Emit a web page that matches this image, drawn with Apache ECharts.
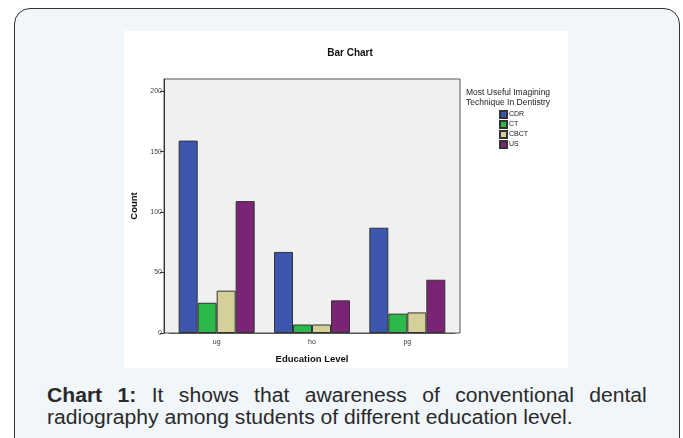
<!DOCTYPE html>
<html>
<head>
<meta charset="utf-8">
<script src="https://cdn.jsdelivr.net/npm/echarts@6/dist/echarts.min.js"></script>
<style>
  body { margin: 0; width: 683px; height: 438px; background: #fff; overflow: hidden; font-family: "Liberation Sans", Arial, sans-serif; }
  .frame { position: absolute; left: 14px; top: 8px; width: 664px; height: 460px; border: 1.5px solid #333; border-radius: 16px; background: #f1f6fa; }
  #chart { position: absolute; left: 124px; top: 31px; width: 444px; height: 337px; background: #fff; }
  .caption { position: absolute; left: 47px; top: 384px; width: 568px; font-size: 20px; line-height: 22px; color: #2a2a2a;
             text-align: justify; text-align-last: left; transform: scaleX(1.056); transform-origin: left top; }
</style>
</head>
<body>
<div class="frame"></div>
<div id="chart"></div>
<div class="caption"><b>Chart 1:</b> It shows that awareness of conventional dental radiography among students of different education level.</div>
<script>
const categories = ['ug', 'ho', 'pg'];
const cdr = [159, 67, 87];
const ct = [25, 7, 16];
const cbct = [35, 7, 17];
const us = [109, 27, 44];
const yTicks = [0, 50, 100, 150, 200];

const colors = { CDR: '#3d56ad', CT: '#2db84b', CBCT: '#d5d09a', US: '#7b2476' };

const chart = echarts.init(document.getElementById('chart'));

function bar(name, data) {
  return {
    name: name,
    type: 'bar',
    xAxisIndex: 1,
    yAxisIndex: 1,
    data: data,
    barWidth: 19,
    barGap: '0%',
    itemStyle: { color: colors[name], borderColor: '#333', borderWidth: 1 }
  };
}

const option = {
  backgroundColor: '#fff',
  animation: false,
  textStyle: { fontFamily: 'Liberation Sans, Arial, sans-serif' },
  title: [
    {
      text: 'Bar Chart',
      left: 221, top: 12, textAlign: 'center',
      textStyle: { fontSize: 10, fontWeight: 'bold', color: '#111' }
    },
    {
      text: 'Most Useful Imagining\nTechnique In Dentistry',
      left: 337, top: 52,
      textStyle: { fontSize: 8.5, fontWeight: 'normal', color: '#222', lineHeight: 10 }
    }
  ],
  legend: {
    orient: 'vertical',
    left: 370, top: 74,
    icon: 'rect',
    itemWidth: 7, itemHeight: 7, itemGap: 1,
    textStyle: { fontSize: 7, lineHeight: 7, color: '#222', padding: [0, 0, 0, -3] },
    data: ['CDR', 'CT', 'CBCT', 'US']
  },
  grid: [
    // frame with the count axis (scale runs to 210 so 200 sits below the top edge)
    { left: 40, top: 48, width: 296, height: 254, containLabel: false, outerBoundsMode: 'none',
      show: true, backgroundColor: '#f0f0f0', borderColor: '#555', borderWidth: 1 },
    // bars, inset a little from the frame sides
    { left: 45, top: 60, width: 286, height: 242, containLabel: false, outerBoundsMode: 'none' }
  ],
  xAxis: [
    { gridIndex: 0, type: 'value', show: false },
    {
      gridIndex: 1,
      type: 'category',
      data: categories,
      name: 'Education Level',
      nameLocation: 'middle',
      nameGap: 21,
      nameTextStyle: { fontSize: 9.5, fontWeight: 'bold', color: '#111' },
      axisLine: { lineStyle: { color: '#555', width: 1 } },
      axisTick: { alignWithLabel: true, length: 6, lineStyle: { color: '#333' } },
      axisLabel: { fontSize: 7, color: '#333', margin: 6 }
    }
  ],
  yAxis: [
    {
      gridIndex: 0,
      type: 'value',
      min: 0, max: 210,
      name: 'Count',
      nameLocation: 'middle',
      nameGap: 20,
      nameTextStyle: { fontSize: 9.5, fontWeight: 'bold', color: '#111' },
      axisLine: { show: true, lineStyle: { color: '#333', width: 1 } },
      axisTick: { show: true, length: 4, customValues: yTicks, lineStyle: { color: '#333' } },
      axisLabel: { fontSize: 7, color: '#444', margin: 2, customValues: yTicks },
      splitLine: { show: false }
    },
    { gridIndex: 1, type: 'value', min: 0, max: 200, show: false }
  ],
  series: [
    bar('CDR', cdr),
    bar('CT', ct),
    bar('CBCT', cbct),
    bar('US', us)
  ]
};

chart.setOption(option);
</script>
</body>
</html>
